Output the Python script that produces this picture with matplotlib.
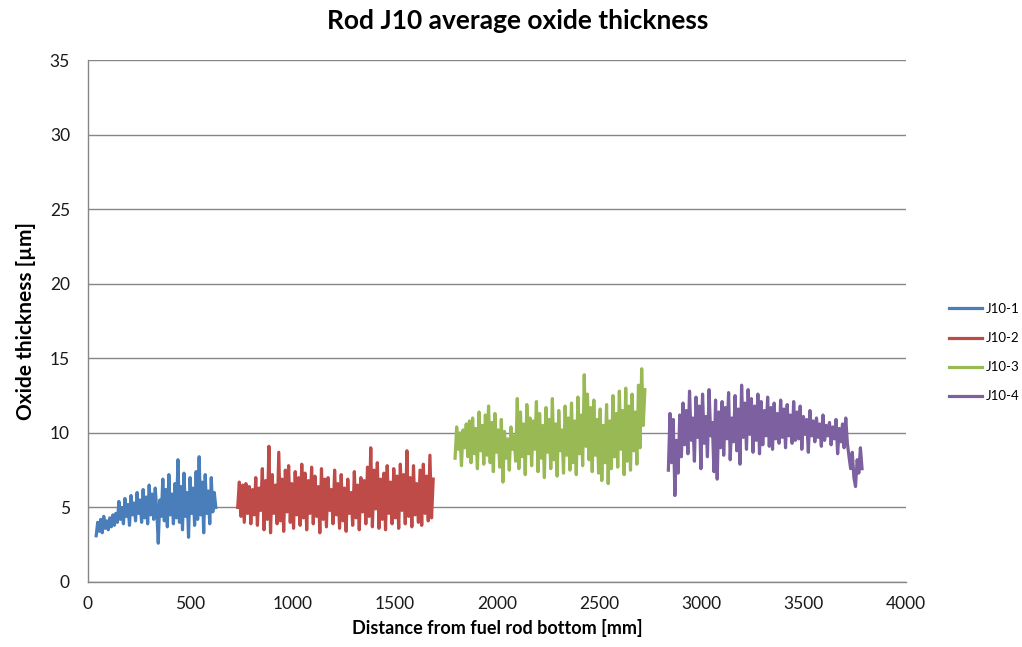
import numpy as np
import matplotlib
matplotlib.use("Agg")
import matplotlib.pyplot as plt

plt.rcParams['font.family'] = ['Lato', 'DejaVu Sans']

# ---- data ----
j1_range = (40, 625)
j1 = [3.1, 4.0, 3.4, 4.2, 3.3, 4.4, 3.6, 4.1, 3.5, 4.3, 3.7, 4.5, 3.8, 4.6, 4.0,
      5.4, 4.2, 5.0, 3.9, 5.6, 4.4, 5.2, 3.8, 5.8, 4.5, 5.3, 4.1, 6.0, 4.6, 5.5,
      4.0, 6.2, 4.3, 5.7, 3.9, 6.5, 4.5, 5.9, 4.2, 6.3, 4.8, 2.6, 5.5, 4.4,
      6.9, 4.1, 6.2, 3.7, 7.2, 4.5, 5.9, 3.9, 6.6, 4.3, 8.2, 4.0, 6.4, 3.5,
      7.3, 4.4, 6.0, 3.0, 7.0, 4.6, 6.3, 3.8, 7.4, 4.2, 8.4, 4.5, 6.7, 3.3, 7.2,
      4.6, 6.1, 3.9, 7.0, 4.7, 6.0, 5.0]

j2_range = (732, 1688)
j2 = [5.0, 6.7, 4.4, 6.5, 4.0, 6.6, 4.6, 6.4, 3.9, 6.2,
      4.5, 7.0, 3.8, 6.3, 4.8, 7.6, 3.5, 6.8, 4.2, 9.1,
      3.3, 7.2, 4.6, 6.5, 3.9, 8.7, 4.1, 6.9, 3.4, 7.5,
      4.7, 7.8, 4.0, 6.6, 3.6, 7.4, 4.5, 7.0, 3.8, 7.9,
      4.3, 7.3, 3.5, 6.8, 4.6, 7.7, 3.9, 7.1, 4.4, 6.4,
      3.3, 7.6, 4.2, 6.9, 3.7, 7.0, 4.8, 6.2, 3.9, 7.5,
      4.5, 6.6, 3.6, 7.2, 4.1, 6.3, 3.4, 6.9, 4.6, 6.0,
      3.8, 7.4, 4.3, 6.5, 3.5, 7.0, 4.7, 6.8, 3.9, 7.7,
      4.4, 9.0, 3.7, 7.5, 4.9, 8.0, 3.6, 6.9, 4.2, 7.3,
      3.5, 7.8, 4.6, 6.7, 3.9, 7.6, 4.3, 7.1, 3.6, 7.9,
      4.8, 7.2, 3.9, 8.8, 4.4, 7.0, 3.7, 7.8, 4.5, 6.6,
      4.0, 7.5, 3.8, 7.9, 4.6, 7.1, 4.1, 8.5, 4.3, 6.9]

j3_range = (1795, 2723)
j3 = [8.3, 10.4, 8.9, 10.0, 7.8, 10.2, 9.0, 10.6, 8.4, 10.8,
      8.0, 11.0, 8.6, 10.3, 7.6, 11.4, 8.8, 10.5, 7.9, 11.2,
      8.5, 11.8, 8.0, 10.7, 7.4, 11.3, 8.7, 10.2, 7.7, 10.9,
      6.7, 10.1, 8.3, 9.6, 7.5, 10.4, 8.9, 9.8, 8.1, 12.3,
      7.6, 11.4, 8.4, 10.6, 7.2, 11.9, 8.6, 11.0, 7.8, 10.8,
      8.9, 12.1, 7.4, 11.3, 8.3, 10.5, 7.0, 11.7, 8.7, 10.9,
      7.6, 12.3, 8.2, 10.6, 7.1, 11.5, 8.8, 10.2, 7.3, 11.8,
      8.5, 11.0, 7.5, 12.0, 8.0, 10.8, 7.2, 12.4, 8.6, 11.2,
      7.8, 13.9, 9.1, 12.6, 8.2, 11.7, 7.4, 12.2, 8.5, 10.9,
      7.3, 11.6, 6.8, 10.5, 8.0, 11.9, 6.6, 10.8, 7.6, 12.5,
      8.4, 11.3, 7.7, 12.8, 8.9, 11.5, 7.2, 13.0, 8.1, 11.8,
      7.5, 12.6, 8.8, 11.4, 7.9, 13.2, 9.0, 14.3, 10.5, 12.9]

j4_range = (2838, 3785)
j4 = [7.5, 11.3, 8.0, 10.9, 5.8, 9.5, 7.3, 11.2, 8.4, 12.0,
      9.2, 11.5, 8.6, 12.8, 9.5, 11.0, 8.1, 12.4, 9.7, 11.8,
      7.6, 12.6, 9.3, 11.1, 8.4, 12.9, 9.8, 10.7, 7.4, 12.2,
      6.9, 11.4, 9.0, 12.1, 8.5, 11.7, 9.6, 12.7, 8.2, 11.0,
      9.4, 12.5, 8.8, 11.6, 7.9, 13.2, 9.7, 12.0, 8.9, 12.9,
      9.9, 12.3, 8.7, 11.8, 9.5, 12.6, 8.6, 12.1, 9.2, 11.5,
      9.8, 12.4, 9.1, 11.7, 8.9, 12.0, 9.6, 11.3, 9.3, 12.2,
      9.7, 11.6, 9.0, 11.9, 9.8, 11.2, 9.3, 12.1, 9.5, 11.4,
      9.6, 11.8, 8.9, 11.1, 9.9, 10.9, 8.7, 11.5, 9.8, 10.8,
      9.4, 11.0, 9.7, 10.6, 9.1, 11.2, 9.5, 10.5, 9.8, 10.7,
      9.2, 10.4, 9.6, 10.9, 8.6, 10.3, 9.4, 10.6, 9.0, 11.0,
      9.3, 8.4, 7.6, 8.7, 7.0, 6.4, 8.2, 7.3, 9.0, 7.6]

series_names = ["J10-1", "J10-2", "J10-3", "J10-4"]
series_vals = [j1, j2, j3, j4]
series_ranges = [j1_range, j2_range, j3_range, j4_range]
colors = ["#4A7EBB", "#BE4B48", "#98B954", "#7D60A0"]

x_ticks = [0, 500, 1000, 1500, 2000, 2500, 3000, 3500, 4000]
y_ticks = [0, 5, 10, 15, 20, 25, 30, 35]

fig = plt.figure(figsize=(10.22, 6.47), dpi=100)
ax = fig.add_axes([0.0861, 0.1005, 0.8004, 0.8065])

for name, vals, rng, c in zip(series_names, series_vals, series_ranges, colors):
    x = np.linspace(rng[0], rng[1], len(vals))
    ax.plot(x, vals, color=c, lw=2.3, label=name)

ax.set_xlim(0, 4000)
ax.set_ylim(0, 35)
ax.set_xticks(x_ticks)
ax.set_yticks(y_ticks)
ax.yaxis.grid(True, color="#868686", lw=1)
ax.set_axisbelow(True)
for s in ["top", "right"]:
    ax.spines[s].set_visible(False)
for s in ["left", "bottom"]:
    ax.spines[s].set_color("#868686")
    ax.spines[s].set_linewidth(1)
ax.tick_params(axis='both', labelcolor="#1a1a1a", labelsize=12.5, length=0)
ax.tick_params(axis='y', pad=13)
ax.tick_params(axis='x', pad=10)

fig.text(0.507, 0.968, "Rod J10 average oxide thickness", fontsize=19,
         fontweight='bold', ha='center', va='center')
ax.set_xlabel("Distance from fuel rod bottom [mm]", fontsize=13, fontweight='bold', labelpad=5)
ax.set_ylabel("Oxide thickness [µm]", fontsize=15, fontweight='bold', labelpad=10)

leg = fig.legend(loc='upper left', bbox_to_anchor=(0.917, 0.55), frameon=False,
                 fontsize=9.5, handlelength=2.5, labelspacing=1.3, handletextpad=0.3)

fig.savefig("out.png", dpi=100)
